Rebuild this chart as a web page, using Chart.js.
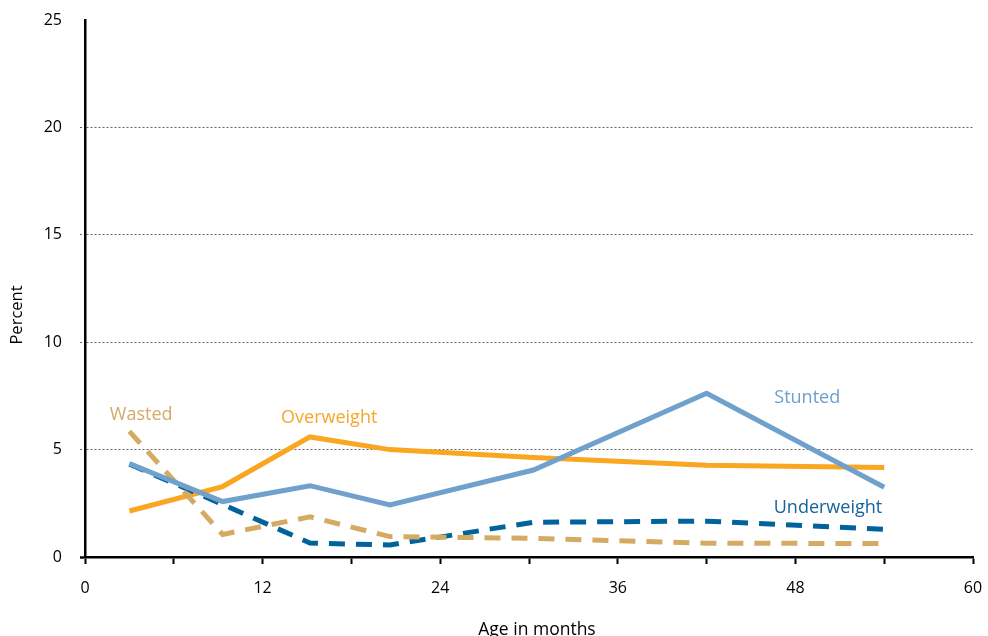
<!DOCTYPE html>
<html>
<head>
<meta charset="utf-8">
<script src="https://cdn.jsdelivr.net/npm/chart.js@4"></script>
<style>
  html, body { margin: 0; padding: 0; background: #fff; }
  #wrap { width: 988px; height: 636px; }
</style>
</head>
<body>
<div id="wrap"><canvas id="grafico" width="988" height="636"></canvas></div>
<script>
// midpoints of the age groups, in months
const ages = [3, 9.3, 15.2, 20.6, 30.3, 42, 54];

const stunted = [4.35, 2.58, 3.32, 2.42, 4.05, 7.62, 3.25];
const wasted = [5.85, 1.05, 1.87, 0.95, 0.87, 0.64, 0.63];
const underweight = [4.32, 2.45, 0.65, 0.56, 1.62, 1.67, 1.29];
const overweight = [2.14, 3.28, 5.59, 5.0, 4.63, 4.27, 4.17];

const xTicks = [0, 12, 24, 36, 48, 60];
const yTicks = [0, 5, 10, 15, 20, 25];

// where the series names sit, in data units
const seriesLabels = [
  { text: 'Wasted', x: 3.8, y: 6.6, color: '#D3AA66' },
  { text: 'Overweight', x: 16.5, y: 6.5, color: '#F7A629' },
  { text: 'Stunted', x: 48.8, y: 7.4, color: '#6E9FCB' },
  { text: 'Underweight', x: 50.2, y: 2.3, color: '#14649A' }
];

const fonte = '"Open Sans", "DejaVu Sans", sans-serif';

function pontos(vals) {
  return vals.map((v, i) => ({ x: ages[i], y: v }));
}

const rotulos = {
  id: 'rotulos',
  afterDatasetsDraw(chart) {
    const ctx = chart.ctx;
    const sx = chart.scales.x, sy = chart.scales.y;
    ctx.save();
    ctx.textAlign = 'center';
    ctx.textBaseline = 'middle';
    ctx.font = '18px ' + fonte;
    for (const l of seriesLabels) {
      ctx.fillStyle = l.color;
      ctx.fillText(l.text, sx.getPixelForValue(l.x), sy.getPixelForValue(l.y));
    }
    // axis titles
    ctx.fillStyle = '#000';
    ctx.font = '17.5px ' + fonte;
    ctx.fillText('Age in months', 537, 630);
    ctx.font = '16.5px ' + fonte;
    ctx.translate(17, 315);
    ctx.rotate(-Math.PI / 2);
    ctx.fillText('Percent', 0, 0);
    ctx.restore();
  }
};

const config = {
  type: 'line',
  data: {
    datasets: [
      {
        label: 'Stunted',
        data: pontos(stunted),
        borderColor: '#6FA1CC',
        borderWidth: 5
      },
      {
        label: 'Wasted',
        data: pontos(wasted),
        borderColor: '#D5AB64',
        borderWidth: 5,
        borderDash: [16, 11]
      },
      {
        label: 'Underweight',
        data: pontos(underweight),
        borderColor: '#00639C',
        borderWidth: 5,
        borderDash: [16, 11]
      },
      {
        label: 'Overweight',
        data: pontos(overweight),
        borderColor: '#F9A620',
        borderWidth: 5
      }
    ]
  },
  options: {
    responsive: false,
    animation: false,
    devicePixelRatio: 1,
    layout: { padding: { top: 20, right: 15, bottom: 0, left: 0 } },
    elements: {
      point: { radius: 0, hoverRadius: 0 },
      line: { tension: 0, borderCapStyle: 'butt', borderJoinStyle: 'miter' }
    },
    plugins: {
      legend: { display: false },
      tooltip: { enabled: false },
      title: { display: false }
    },
    scales: {
      x: {
        type: 'linear',
        min: 0,
        max: 60,
        afterBuildTicks: (s) => {
          s.ticks = [];
          for (let v = 0; v <= 60; v += 6) s.ticks.push({ value: v });
        },
        afterFit: (s) => {
          s.height = 79;
          s.paddingLeft = 0;
          s.paddingRight = 0;
        },
        ticks: {
          autoSkip: false,
          maxRotation: 0,
          padding: 15,
          color: '#000',
          font: { family: fonte, size: 16 },
          callback: (v) => xTicks.includes(v) ? String(v) : ''
        },
        grid: {
          drawOnChartArea: false,
          tickLength: 7,
          tickColor: '#000',
          tickWidth: 2
        },
        border: { color: '#000', width: 2.5 }
      },
      y: {
        min: 0,
        max: 25,
        afterBuildTicks: (s) => {
          s.ticks = yTicks.map(v => ({ value: v }));
        },
        afterFit: (s) => {
          s.width = 85;
          s.paddingTop = 0;
          s.paddingBottom = 0;
        },
        ticks: {
          padding: 18,
          color: '#000',
          font: { family: fonte, size: 16 }
        },
        grid: {
          color: (c) => (c.tick.value === 0 || c.tick.value === 25) ? 'rgba(0,0,0,0)' : '#666',
          lineWidth: 1,
          tickLength: 5,
          tickColor: (c) => c.tick.value === 25 ? 'rgba(0,0,0,0)' : (c.tick.value === 0 ? '#000' : '#666'),
          tickWidth: (c) => c.tick.value === 0 ? 2.5 : 1,
          tickBorderDash: (c) => c.tick.value === 0 ? [] : [2, 2]
        },
        border: { color: '#000', width: 2.5, dash: [2, 2] }
      }
    }
  },
  plugins: [rotulos]
};

const grafico = new Chart(document.getElementById('grafico'), config);
</script>
</body>
</html>
